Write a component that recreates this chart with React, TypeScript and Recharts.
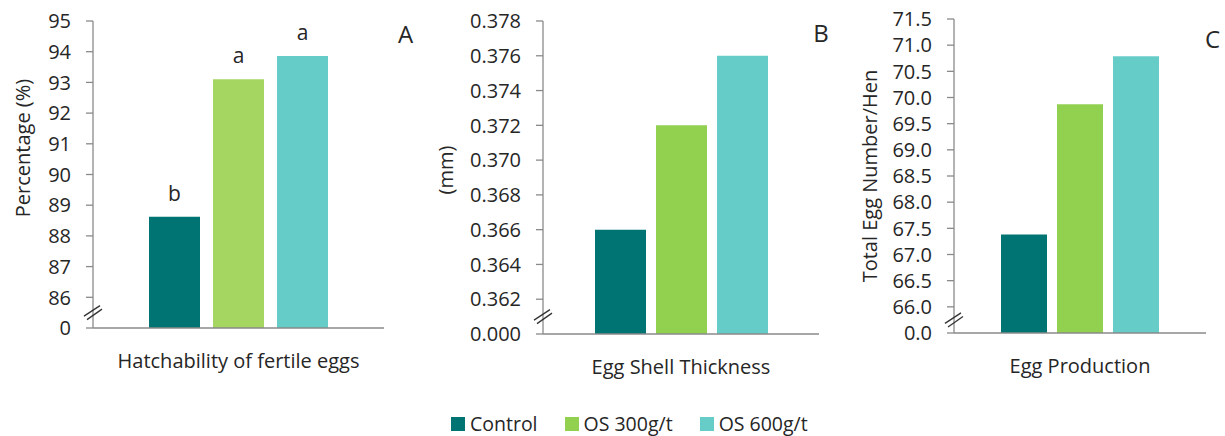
import React from 'react';
import { BarChart, Bar, XAxis, YAxis, LabelList } from 'recharts';

const FONT = '"Open Sans", "Noto Sans", sans-serif';
const AXIS = '#8a8a8a';
const TEXT = '#262626';

const seriesNames = ['Control', 'OS 300g/t', 'OS 600g/t'];
const seriesKeys = ['control', 'os300', 'os600'];
const controlColor = '#007473';
const teal = '#66CCC8';
const greenA = '#A6D662';
const greenBC = '#92D050';

const hatchCategory = 'Hatchability of fertile eggs';
const hatchValues = [88.62, 93.1, 93.86];
const hatchLetters = ['b', 'a', 'a'];
const hatchTicks = [85, 85.5, 86, 87, 88, 89, 90, 91, 92, 93, 94, 95];

const shellCategory = 'Egg Shell Thickness';
const shellValues = [0.366, 0.372, 0.376];
const shellTicks = [0.36, 0.361, 0.362, 0.364, 0.366, 0.368, 0.37, 0.372, 0.374, 0.376, 0.378];

const prodCategory = 'Egg Production';
const prodValues = [67.38, 69.87, 70.79];
const prodTicks = [65.5, 65.75, 66, 66.5, 67, 67.5, 68, 68.5, 69, 69.5, 70, 70.5, 71, 71.5];

function makeRow(category: string, values: number[], letters?: string[]) {
  const row: any = { name: category };
  seriesKeys.forEach((k, i) => {
    row[k] = values[i];
    if (letters) row[k + 'Letter'] = letters[i];
  });
  return [row];
}

const YTick = (props: any) => {
  const { x, y, payload, breakValue, fmt } = props;
  const ax = x + 22;
  if (payload.value === breakValue) {
    return (
      <g>
        <line x1={ax - 9} y1={y + 3.5} x2={ax + 7} y2={y - 7} stroke="#333" strokeWidth={1.3} />
        <line x1={ax - 6} y1={y + 7} x2={ax + 9} y2={y - 3.5} stroke="#333" strokeWidth={1.3} />
      </g>
    );
  }
  return (
    <g>
      <line x1={ax - 7} y1={y} x2={ax} y2={y} stroke={AXIS} strokeWidth={1.3} />
      <text x={x} y={y} dy="0.36em" textAnchor="end" fill={TEXT} fontSize={20} fontFamily={FONT}>
        {fmt(payload.value)}
      </text>
    </g>
  );
};

type PanelProps = {
  left: number;
  width: number;
  height: number;
  marginTop: number;
  marginRight: number;
  yWidth: number;
  xHeight: number;
  data: any[];
  domain: [number, number];
  ticks: number[];
  breakValue: number;
  fmt: (v: number) => string;
  barSize: number;
  barGap: number;
  green: string;
  letters?: boolean;
};

function Panel(p: PanelProps) {
  const colors = [controlColor, p.green, teal];
  return (
    <div style={{ position: 'absolute', left: p.left, top: 0 }}>
      <BarChart
        width={p.width}
        height={p.height}
        data={p.data}
        margin={{ top: p.marginTop, right: p.marginRight, bottom: 0, left: 0 }}
        barSize={p.barSize}
        barGap={p.barGap}
      >
        <XAxis
          dataKey="name"
          height={p.xHeight}
          axisLine={{ stroke: AXIS, strokeWidth: 1.3 }}
          tickLine={false}
          tickSize={0}
          tickMargin={26}
          tick={{ fill: TEXT, fontSize: 20, fontFamily: FONT }}
        />
        <YAxis
          type="number"
          width={p.yWidth}
          domain={p.domain}
          ticks={p.ticks}
          interval={0}
          allowDataOverflow
          axisLine={{ stroke: AXIS, strokeWidth: 1.3 }}
          tickLine={false}
          tickSize={7}
          tickMargin={15}
          tick={<YTick breakValue={p.breakValue} fmt={p.fmt} />}
        />
        {seriesKeys.map((k, i) => (
          <Bar key={k} dataKey={k} name={seriesNames[i]} fill={colors[i]} isAnimationActive={false}>
            {p.letters ? (
              <LabelList
                dataKey={k + 'Letter'}
                position="top"
                offset={16}
                fill={TEXT}
                fontSize={21}
                fontFamily={FONT}
              />
            ) : null}
          </Bar>
        ))}
      </BarChart>
    </div>
  );
}

const legendColors = [controlColor, greenBC, teal];

export default function App() {
  return (
    <div style={{ position: 'relative', width: 1225, height: 436, background: '#fff', fontFamily: FONT, overflow: 'hidden' }}>
      <style>{'body{margin:0}'}</style>
      <Panel
        left={0}
        width={420}
        height={380}
        marginTop={21}
        marginRight={36}
        yWidth={93}
        xHeight={52}
        data={makeRow(hatchCategory, hatchValues, hatchLetters)}
        domain={[85, 95]}
        ticks={hatchTicks}
        breakValue={85.5}
        fmt={(v) => (v === 85 ? '0' : String(v))}
        barSize={51}
        barGap={13}
        green={greenA}
        letters
      />
      <Panel
        left={420}
        width={420}
        height={380}
        marginTop={21}
        marginRight={21}
        yWidth={123}
        xHeight={46}
        data={makeRow(shellCategory, shellValues)}
        domain={[0.36, 0.378]}
        ticks={shellTicks}
        breakValue={0.361}
        fmt={(v) => (v === 0.36 ? '0.000' : v.toFixed(3))}
        barSize={51}
        barGap={10}
        green={greenBC}
      />
      <Panel
        left={830}
        width={395}
        height={380}
        marginTop={19}
        marginRight={19}
        yWidth={124}
        xHeight={47}
        data={makeRow(prodCategory, prodValues)}
        domain={[65.5, 71.5]}
        ticks={prodTicks}
        breakValue={65.75}
        fmt={(v) => (v === 65.5 ? '0.0' : v.toFixed(1))}
        barSize={46}
        barGap={10}
        green={greenBC}
      />
      <svg width={1225} height={436} style={{ position: 'absolute', left: 0, top: 0, pointerEvents: 'none' }}>
        <g fontFamily={FONT} fill={TEXT}>
          <text x={22} y={148} fontSize={20} textAnchor="middle" dominantBaseline="central" transform="rotate(-90 22 148)">
            Percentage (%)
          </text>
          <text x={445} y={170} fontSize={20} textAnchor="middle" dominantBaseline="central" transform="rotate(-90 445 170)">
            (mm)
          </text>
          <text x={869} y={176} fontSize={20} textAnchor="middle" dominantBaseline="central" transform="rotate(-90 869 176)">
            Total Egg Number/Hen
          </text>
          <text x={405.5} y={43} fontSize={24} textAnchor="middle">A</text>
          <text x={821} y={42} fontSize={24} textAnchor="middle">B</text>
          <text x={1212.5} y={48} fontSize={24} textAnchor="middle">C</text>
        </g>
      </svg>
      <div
        style={{
          position: 'absolute',
          left: 451,
          top: 410,
          display: 'flex',
          alignItems: 'center',
          gap: 27,
          fontSize: 19.5,
          color: TEXT,
          whiteSpace: 'nowrap',
        }}
      >
        {seriesNames.map((n, i) => (
          <div key={n} style={{ display: 'flex', alignItems: 'center', gap: 5 }}>
            <span style={{ display: 'inline-block', width: 14, height: 14, background: legendColors[i] }} />
            <span>{n}</span>
          </div>
        ))}
      </div>
    </div>
  );
}
